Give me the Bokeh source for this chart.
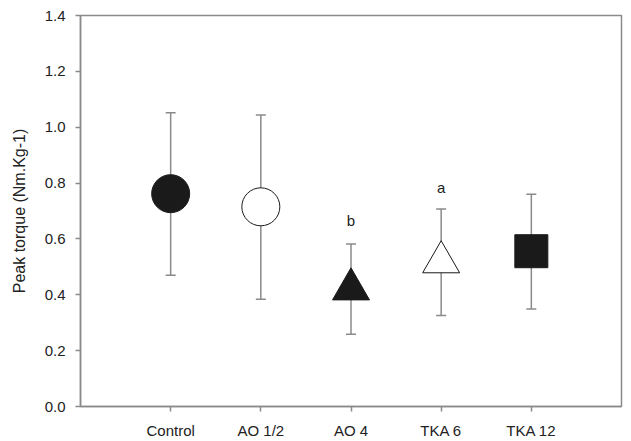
from bokeh.plotting import figure
from bokeh.models import Range1d, FixedTicker, Whisker, TeeHead, ColumnDataSource, NumeralTickFormatter
from bokeh.core.properties import value
from bokeh.embed import file_html
from bokeh.resources import INLINE

groups = ["Control", "AO 1/2", "AO 4", "TKA 6", "TKA 12"]
positions = [1, 2, 3, 4, 5]
means = [0.762, 0.715, 0.420, 0.517, 0.556]
upper = [1.052, 1.044, 0.582, 0.707, 0.760]
lower = [0.470, 0.384, 0.259, 0.326, 0.349]
markers = ["circle", "circle", "triangle", "triangle", "square"]
fills = ["#1a1a1a", "white", "#1a1a1a", "white", "#1a1a1a"]
sizes = [38, 38, 37, 37, 33]
sig_x = [3, 4]
sig_y = [0.665, 0.784]
sig_text = ["b", "a"]
y_ticks = [0.0, 0.2, 0.4, 0.6, 0.8, 1.0, 1.2, 1.4]

FONT = "Liberation Sans"
GRAY = "#8a8a8a"

p = figure(width=631, height=441, output_backend="svg", toolbar_location=None,
           x_range=Range1d(0, 6), y_range=Range1d(0, 1.4),
           min_border_left=80, min_border_top=15, min_border_right=10, min_border_bottom=32)
p.background_fill_color = "white"
p.border_fill_color = "white"
p.outline_line_color = GRAY
p.outline_line_width = 1.5
p.grid.visible = False

src = ColumnDataSource(dict(x=positions, m=means, up=upper, lo=lower,
                            marker=markers, fill=fills, size=sizes))

wh = Whisker(base="x", upper="up", lower="lo", source=src, dimension="height",
             line_color=GRAY, line_width=1.5,
             upper_head=TeeHead(size=10, line_color=GRAY, line_width=1.5),
             lower_head=TeeHead(size=10, line_color=GRAY, line_width=1.5))
p.add_layout(wh)

p.scatter("x", "m", source=src, marker="marker", size="size",
          fill_color="fill", line_color="#1a1a1a", line_width=1)

p.text(x=sig_x, y=sig_y, text=sig_text, text_align="center", text_baseline="middle",
       text_font=value(FONT), text_font_size="15px", text_color="#222222")

# axes
p.xaxis.ticker = FixedTicker(ticks=positions)
p.xaxis.major_label_overrides = {pos: g for pos, g in zip(positions, groups)}
p.yaxis.ticker = FixedTicker(ticks=y_ticks)
p.yaxis.formatter = NumeralTickFormatter(format="0.0")
for ax in (p.xaxis, p.yaxis):
    ax.axis_line_color = GRAY
    ax.axis_line_width = 1.5
    ax.major_tick_line_color = GRAY
    ax.major_tick_line_width = 1.5
    ax.major_tick_out = 5
    ax.major_tick_in = 0
    ax.minor_tick_line_color = None
    ax.major_label_text_font = FONT
    ax.major_label_text_font_size = "15px"
    ax.major_label_text_color = "#222222"
p.xaxis.major_label_standoff = 10
p.yaxis.major_label_standoff = 10

p.yaxis.axis_label = "Peak torque (Nm.Kg-1)"
p.yaxis.axis_label_text_font = FONT
p.yaxis.axis_label_text_font_size = "16px"
p.yaxis.axis_label_text_font_style = "normal"
p.yaxis.axis_label_text_color = "#222222"
p.yaxis.axis_label_standoff = 14

open("out.html", "w").write(file_html(p, INLINE))
